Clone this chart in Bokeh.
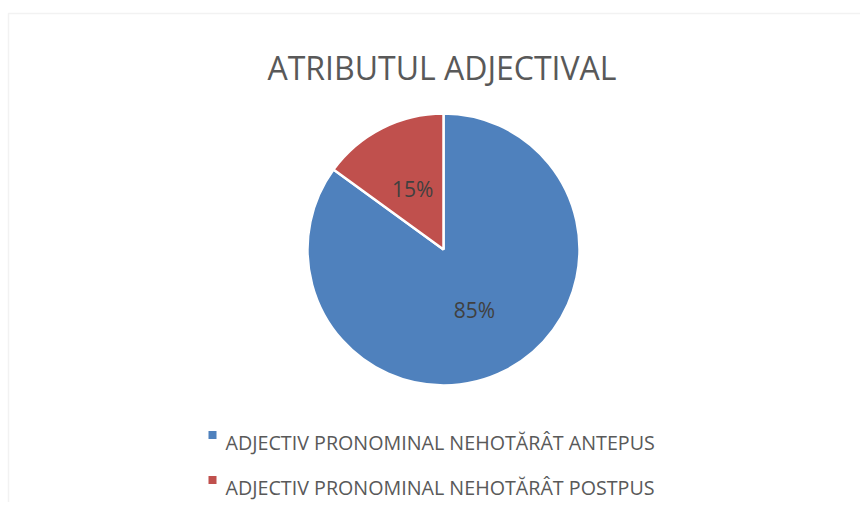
import math
from bokeh.plotting import figure
from bokeh.models import Range1d, BoxAnnotation, ColumnDataSource
from bokeh.core.properties import value
from bokeh.embed import file_html
from bokeh.resources import INLINE

title = "ATRIBUTUL ADJECTIVAL"
categories = ["ADJECTIV PRONOMINAL NEHOTĂRÂT ANTEPUS", "ADJECTIV PRONOMINAL NEHOTĂRÂT POSTPUS"]
values = [85, 15]
colors = ["#4f81bd", "#c0504d"]

W, H = 860, 502
FONT = "Open Sans"

p = figure(width=W, height=H, output_backend="svg", toolbar_location=None,
           x_range=Range1d(0, W), y_range=Range1d(0, H), min_border=0,
           background_fill_color="white", border_fill_color="white")
p.axis.visible = False
p.grid.visible = False
p.outline_line_color = None

# chart area border (cropped on right/bottom)
p.add_layout(BoxAnnotation(left=8, right=W + 20, bottom=-20, top=H - 13,
                           fill_alpha=0.0, level="underlay",
                           line_color="#d4d4d4", line_width=1.5))

# pie: first slice goes clockwise from 12 o'clock, second fills the rest
cx, cy, R = 443, 253, 136
total = sum(values)
starts, ends = [], []
a = math.pi / 2
for v in values:
    frac = v / total * 2 * math.pi
    starts.append(a - frac)
    ends.append(a)
    a -= frac

src = ColumnDataSource(dict(start=starts, end=ends, color=colors))
p.wedge(x=cx, y=cy, radius=R, radius_units="screen", start_angle="start", end_angle="end",
        fill_color="color", line_color="white", line_width=2.5, source=src)

lx, ly, lt = [], [], []
for v, s, e in zip(values, starts, ends):
    m = (s + e) / 2
    lx.append(cx + 0.5 * R * math.cos(m))
    ly.append(cy + 0.5 * R * math.sin(m))
    lt.append(f"{round(v / total * 100)}%")
p.text(x=lx, y=ly, text=lt, text_font=value(FONT), text_font_size="21px",
       text_color="#404040", text_align="center", text_baseline="middle")

# title
p.text(x=[441.5], y=[435], text=[title], text_font=value(FONT), text_font_size="32px",
       text_color="#595959", text_align="center", text_baseline="alphabetic")

# legend
text_y = [60, 15]
p.scatter(x=[212] * len(categories), y=[t + 7.5 for t in text_y], marker="square", size=8,
          fill_color=colors, line_color=None)
p.text(x=[225] * len(categories), y=text_y, text=categories, text_font=value(FONT),
       text_font_size="19.7px", text_color="#595959", text_align="left",
       text_baseline="alphabetic")

open("out.html", "w").write(file_html(p, INLINE))
